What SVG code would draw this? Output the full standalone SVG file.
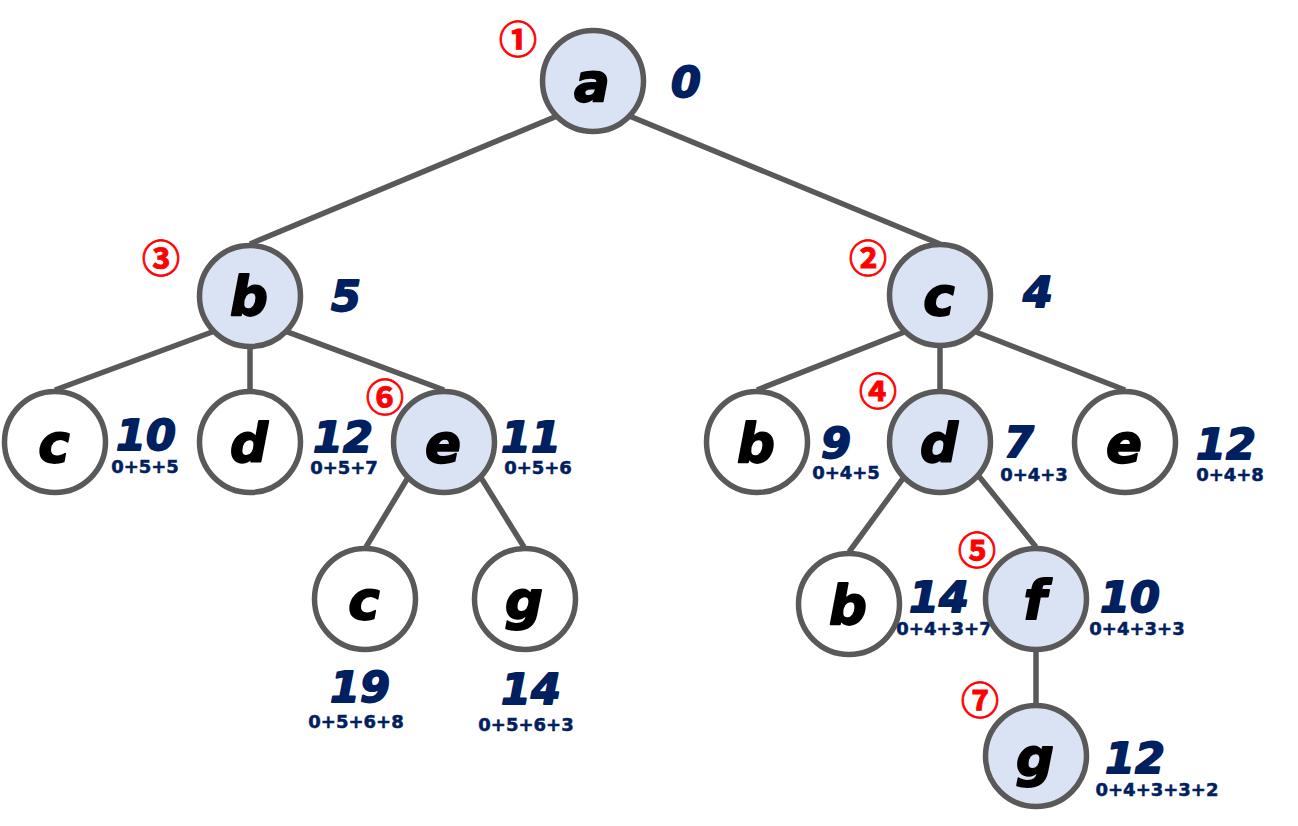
<svg xmlns="http://www.w3.org/2000/svg" width="1298" height="826" viewBox="0 0 1298 826">
<style>
.edge{stroke:#595959;stroke-width:5.5;fill:none;stroke-linecap:butt}
.nd{stroke:#595959;stroke-width:5.5}
.on{fill:#dae3f3}
.off{fill:#ffffff}
.lt{font-family:"DejaVu Sans",sans-serif;font-weight:bold;font-style:italic;font-size:53px;fill:#000;stroke:#000;stroke-width:1.8;stroke-linejoin:round;text-anchor:middle}
.num{font-family:"DejaVu Sans",sans-serif;font-weight:bold;font-style:italic;font-size:43px;fill:#002060;stroke:#002060;stroke-width:1.8;stroke-linejoin:round;text-anchor:middle}
.sub{font-family:"DejaVu Sans",sans-serif;font-weight:bold;font-size:18px;fill:#002060;stroke:#002060;stroke-width:0.5;text-anchor:middle}
.ord{font-family:"Noto Sans CJK JP",sans-serif;font-weight:bold;font-size:38px;fill:#ff0000;stroke:#ff0000;stroke-width:0.9;text-anchor:middle}
</style>
<rect width="1298" height="826" fill="#ffffff"/>
<g id="connectors">
<line class="edge" x1="593" y1="101" x2="250" y2="244"/>
<line class="edge" x1="593" y1="101" x2="940" y2="244"/>
<line class="edge" x1="250" y1="318" x2="55" y2="390"/>
<line class="edge" x1="250" y1="340" x2="250" y2="390"/>
<line class="edge" x1="250" y1="318" x2="444" y2="390"/>
<line class="edge" x1="940" y1="318" x2="757" y2="390"/>
<line class="edge" x1="940" y1="340" x2="940" y2="390"/>
<line class="edge" x1="940" y1="318" x2="1125" y2="390"/>
<line class="edge" x1="444" y1="418" x2="366" y2="547"/>
<line class="edge" x1="444" y1="418" x2="524" y2="547"/>
<line class="edge" x1="940" y1="428" x2="849" y2="552"/>
<line class="edge" x1="940" y1="428" x2="1036" y2="547"/>
<line class="edge" x1="1036" y1="640" x2="1036" y2="705"/>
</g>
<g id="node-a">
<circle class="nd on" cx="593" cy="81" r="50.5"/>
<text class="lt" x="592" y="101">a</text>
<text class="num" x="686" y="97">0</text>
<text class="ord" x="518" y="53">①</text>
</g>
<g id="node-b">
<circle class="nd on" cx="250" cy="296" r="50.5"/>
<text class="lt" x="249" y="315">b</text>
<text class="num" x="346" y="311">5</text>
<text class="ord" x="161" y="272">③</text>
</g>
<g id="node-c">
<circle class="nd on" cx="940" cy="295" r="50.5"/>
<text class="lt" x="939" y="315">c</text>
<text class="num" x="1038" y="307">4</text>
<text class="ord" x="868" y="272">②</text>
</g>
<g id="node-b-c">
<circle class="nd off" cx="55" cy="442" r="50.5"/>
<text class="lt" x="54" y="462">c</text>
<text class="num" x="146" y="450">10</text>
<text class="sub" x="145" y="473">0+5+5</text>
</g>
<g id="node-b-d">
<circle class="nd off" cx="250" cy="442" r="50.5"/>
<text class="lt" x="249" y="462">d</text>
<text class="num" x="343" y="452">12</text>
<text class="sub" x="344" y="474">0+5+7</text>
</g>
<g id="node-b-e">
<circle class="nd on" cx="444" cy="442" r="50.5"/>
<text class="lt" x="443" y="462">e</text>
<text class="num" x="531" y="452">11</text>
<text class="sub" x="538" y="474">0+5+6</text>
<text class="ord" x="385" y="411">⑥</text>
</g>
<g id="node-c-b">
<circle class="nd off" cx="757" cy="442" r="50.5"/>
<text class="lt" x="756" y="462">b</text>
<text class="num" x="836" y="458">9</text>
<text class="sub" x="846" y="479">0+4+5</text>
</g>
<g id="node-c-d">
<circle class="nd on" cx="940" cy="442" r="50.5"/>
<text class="lt" x="939" y="462">d</text>
<text class="num" x="1019" y="457">7</text>
<text class="sub" x="1034" y="481">0+4+3</text>
<text class="ord" x="878" y="405">④</text>
</g>
<g id="node-c-e">
<circle class="nd off" cx="1125" cy="442" r="50.5"/>
<text class="lt" x="1124" y="462">e</text>
<text class="num" x="1226" y="459">12</text>
<text class="sub" x="1230" y="481">0+4+8</text>
</g>
<g id="node-e-c">
<circle class="nd off" cx="365" cy="599" r="50.5"/>
<text class="lt" x="364" y="619">c</text>
<text class="num" x="360" y="702">19</text>
<text class="sub" x="356" y="728">0+5+6+8</text>
</g>
<g id="node-e-g">
<circle class="nd off" cx="525" cy="599" r="50.5"/>
<text class="lt" x="524" y="619">g</text>
<text class="num" x="531" y="704">14</text>
<text class="sub" x="526" y="731">0+5+6+3</text>
</g>
<g id="node-d-b">
<circle class="nd off" cx="849" cy="604" r="50.5"/>
<text class="lt" x="848" y="624">b</text>
<text class="num" x="939" y="612">14</text>
<text class="sub" x="944" y="635">0+4+3+7</text>
</g>
<g id="node-d-f">
<circle class="nd on" cx="1036" cy="599" r="50.5"/>
<text class="lt" x="1035" y="619">f</text>
<text class="num" x="1130" y="612">10</text>
<text class="sub" x="1137" y="635">0+4+3+3</text>
<text class="ord" x="977" y="564">⑤</text>
</g>
<g id="node-f-g">
<circle class="nd on" cx="1036" cy="756" r="50.5"/>
<text class="lt" x="1035" y="776">g</text>
<text class="num" x="1135" y="773">12</text>
<text class="sub" x="1157" y="796">0+4+3+3+2</text>
<text class="ord" x="980" y="714">⑦</text>
</g>
</svg>
